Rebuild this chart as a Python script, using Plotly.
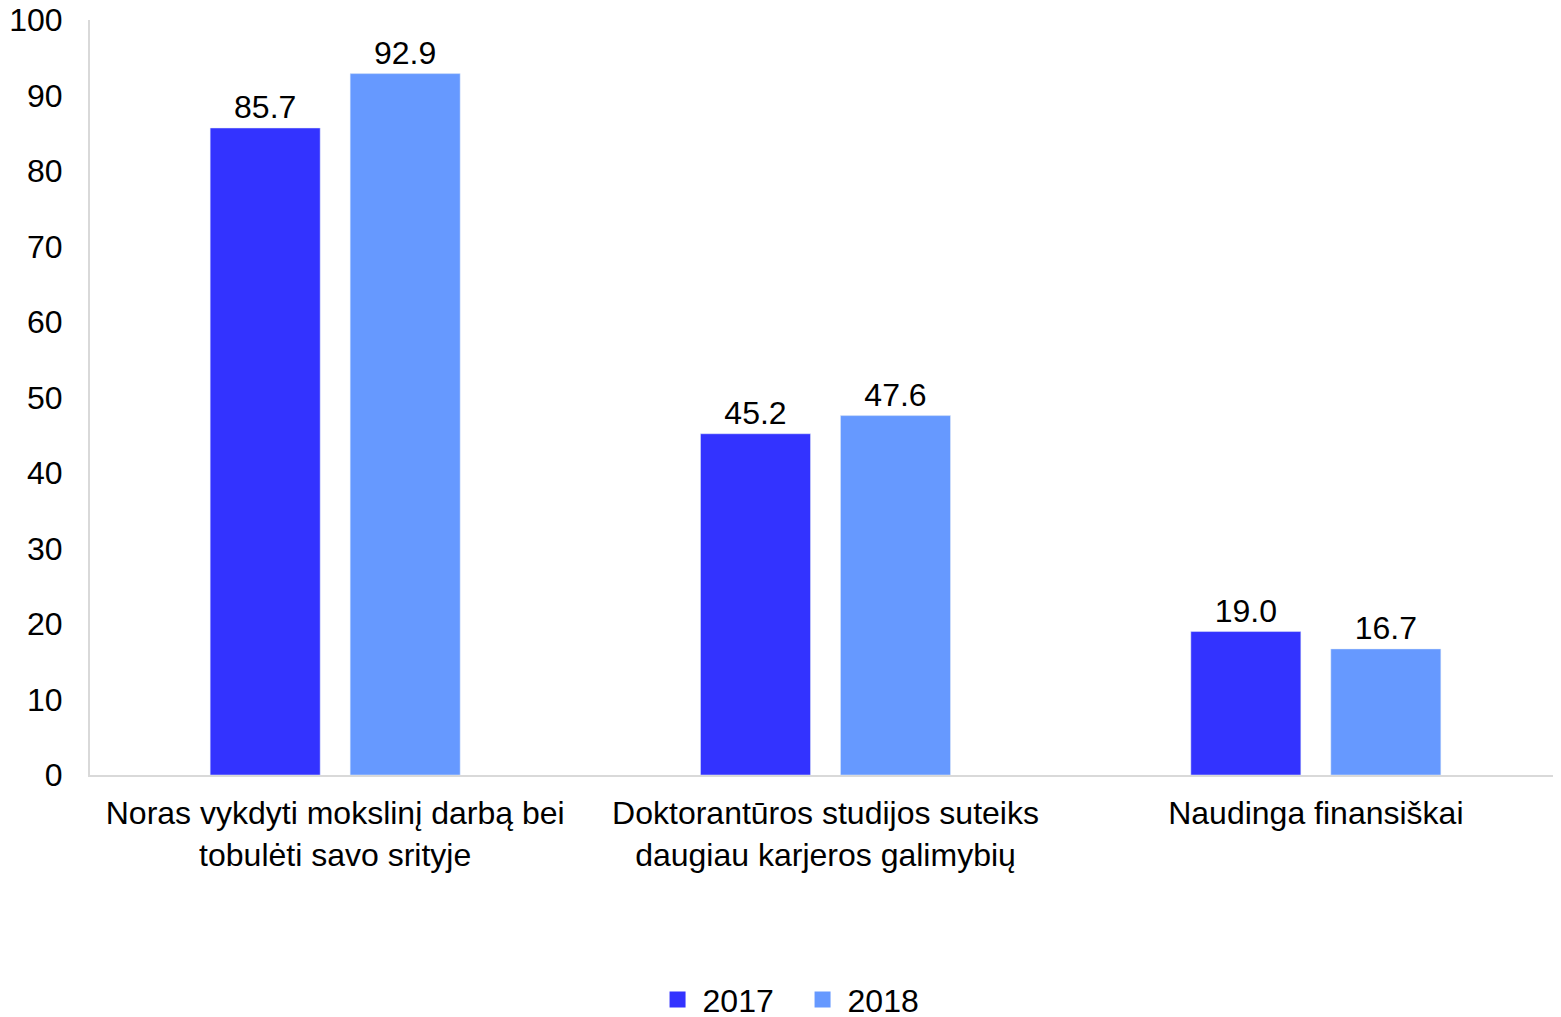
import plotly.graph_objects as go

categories = ["Noras vykdyti mokslinį darbą bei<br>tobulėti savo srityje",
              "Doktorantūros studijos suteiks<br>daugiau karjeros galimybių",
              "Naudinga finansiškai"]
series_names = ["2017", "2018"]
values_2017 = [85.7, 45.2, 19.0]
values_2018 = [92.9, 47.6, 16.7]
colors = ["#3333FF", "#6699FF"]
y_ticks = [0, 10, 20, 30, 40, 50, 60, 70, 80, 90, 100]

FONT = "Liberation Sans, Arial, sans-serif"
FS = 32
fig = go.Figure()
for name, vals, col in zip(series_names, [values_2017, values_2018], colors):
    fig.add_trace(go.Bar(
        x=categories, y=vals, name=name, marker_color=col,
        text=[f"{v:.1f}" for v in vals], textposition="outside",
        textfont=dict(size=FS, color="black", family=FONT),
        cliponaxis=False, showlegend=False,
    ))
# legend entries with larger square markers
for name, col in zip(series_names, colors):
    fig.add_trace(go.Scatter(
        x=[None], y=[None], mode="markers", name=name,
        marker=dict(symbol="square", size=20, color=col),
        showlegend=True,
    ))

fig.update_layout(
    width=1553, height=1017,
    margin=dict(l=82, r=0, t=12, b=250),
    plot_bgcolor="white", paper_bgcolor="white",
    font=dict(family=FONT, size=FS, color="black"),
    barmode="group", bargap=0.429, bargroupgap=0.214,
    showlegend=True,
    legend=dict(orientation="h", x=0.481, xanchor="center",
                yref="container", y=0.025, yanchor="middle",
                font=dict(size=FS), traceorder="normal", itemsizing="trace",
                entrywidth=90, itemwidth=40),
    xaxis=dict(showline=True, linecolor="#d9d9d9", linewidth=2, ticks="",
               tickfont=dict(size=FS), automargin=False, ticklabelstandoff=9),
    yaxis=dict(range=[0, 100], tickvals=y_ticks, showgrid=False, showline=True,
               linecolor="#d9d9d9", linewidth=2, ticks="", zeroline=False,
               tickfont=dict(size=FS), automargin=False, ticklabelstandoff=19,
               ticklabeloverflow="allow"),
)
fig.write_html("out.html")
